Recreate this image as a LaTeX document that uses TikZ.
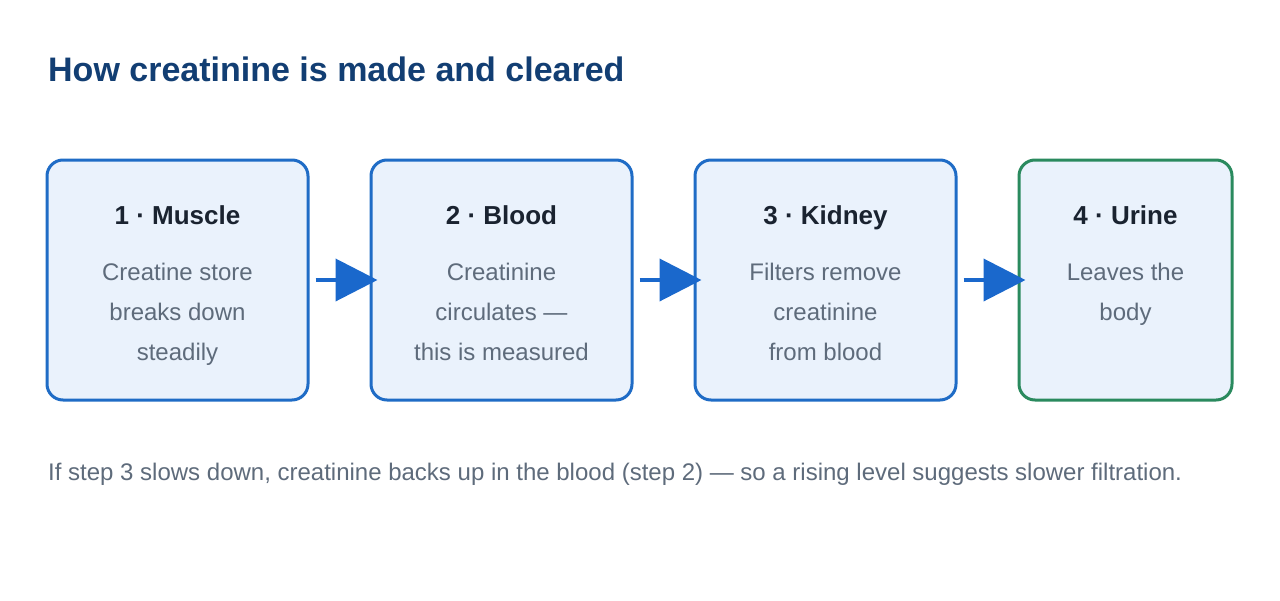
\documentclass[tikz,border=0pt]{standalone}
\usepackage{fontspec}
\setmainfont{Liberation Sans}
\usetikzlibrary{arrows.meta,calc}
\definecolor{titleblue}{HTML}{123E73}
\definecolor{boxblue}{HTML}{1F6CC6}
\definecolor{boxgreen}{HTML}{2A8A5E}
\definecolor{boxfill}{HTML}{EAF2FC}
\definecolor{headtxt}{HTML}{1A2330}
\definecolor{bodytxt}{HTML}{5E6B7B}
\definecolor{arrowblue}{HTML}{1A68CC}
\tikzset{
  stepbox/.style={draw=boxblue, line width=3pt, fill=boxfill, rounded corners=16pt, minimum height=240pt, inner sep=0pt},
  headtext/.style={font=\bfseries\fontsize{26}{30}\selectfont, text=headtxt, anchor=base, inner sep=0pt},
  bodytext/.style={font=\fontsize{24}{40}\selectfont, text=bodytxt, align=center, anchor=north, inner sep=0pt},
  flow/.style={draw=arrowblue, line width=4pt, -{Triangle[length=42pt,width=42pt]}}
}
\begin{document}
\begin{tikzpicture}[x=1pt,y=-1pt]
\useasboundingbox[fill=white] (0,0) rectangle (1280,600);
\node[anchor=base west, inner sep=0pt, font=\bfseries\fontsize{34}{40}\selectfont, text=titleblue] (title) at (48,81) {How creatinine is made and cleared};
\node[stepbox, minimum width=261pt] (b1) at (177.5,280) {};
\node[stepbox, minimum width=261pt] (b2) at (501.5,280) {};
\node[stepbox, minimum width=261pt] (b3) at (825.5,280) {};
\node[stepbox, draw=boxgreen, minimum width=213pt] (b4) at (1125.5,280) {};
\node[headtext] (h1) at (177.5,224) {1 · Muscle};
\node[headtext] (h2) at (501.5,224) {2 · Blood};
\node[headtext] (h3) at (825.5,224) {3 · Kidney};
\node[headtext] (h4) at (1125.5,224) {4 · Urine};
\node[bodytext] (t1) at (177.5,263) {Creatine store\\breaks down\\steadily};
\node[bodytext] (t2) at (501.5,263) {Creatinine\\circulates —\\this is measured};
\node[bodytext] (t3) at (825.5,263) {Filters remove\\creatinine\\from blood};
\node[bodytext] (t4) at (1125.5,263) {Leaves the\\body};
\draw[flow] ($(b1.east)+(6,0)$) -- ($(b2.west)+(8,0)$);
\draw[flow] ($(b2.east)+(6,0)$) -- ($(b3.west)+(8,0)$);
\draw[flow] ($(b3.east)+(6,0)$) -- ($(b4.west)+(8,0)$);
\node[anchor=base west, inner sep=0pt, font=\fontsize{24}{28}\selectfont, text=bodytxt] (note) at (48,480) {If step 3 slows down, creatinine backs up in the blood (step 2) — so a rising level suggests slower filtration.};
\end{tikzpicture}
\end{document}
